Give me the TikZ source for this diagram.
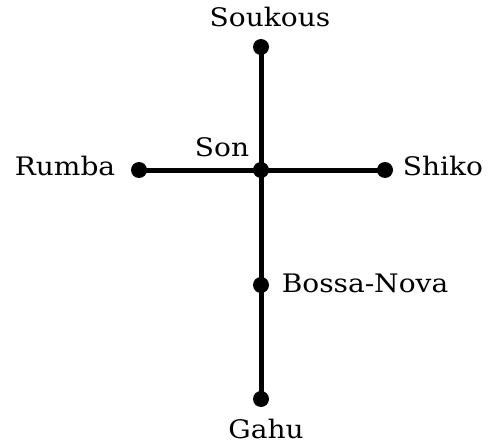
\documentclass[tikz,border=0pt]{standalone}
\usepackage{fontspec}
\setmainfont[FakeStretch=1.1]{DejaVu Serif}
\begin{document}
\begin{tikzpicture}[x=1pt,y=-1pt,
  dot/.style={circle,fill=black,inner sep=0pt,minimum size=16pt},
  lbl/.style={anchor=base,inner sep=0pt,font=\fontsize{25.5}{30}\selectfont},
  edge/.style={line width=5pt}]
\useasboundingbox (0,0) rectangle (493,444);
% dots
\node[dot] (son) at (261,170) {};
\node[dot] (soukous) at (261,47) {};
\node[dot] (rumba) at (139,170) {};
\node[dot] (shiko) at (385,170) {};
\node[dot] (bossa) at (261,285) {};
\node[dot] (gahu) at (261,399) {};
% connectors
\draw[edge] (soukous.center) -- (son.center);
\draw[edge] (son.center) -- (bossa.center);
\draw[edge] (bossa.center) -- (gahu.center);
\draw[edge] (rumba.center) -- (son.center);
\draw[edge] (son.center) -- (shiko.center);
% labels
\node[lbl] (tsoukous) at (270,27) {Soukous};
\node[lbl] (tson) at (222,157) {Son};
\node[lbl] (trumba) at (65,175) {Rumba};
\node[lbl] (tshiko) at (443,175) {Shiko};
\node[lbl] (tbossa) at (365,292) {Bossa-Nova};
\node[lbl] (tgahu) at (266,438) {Gahu};
\end{tikzpicture}
\end{document}
